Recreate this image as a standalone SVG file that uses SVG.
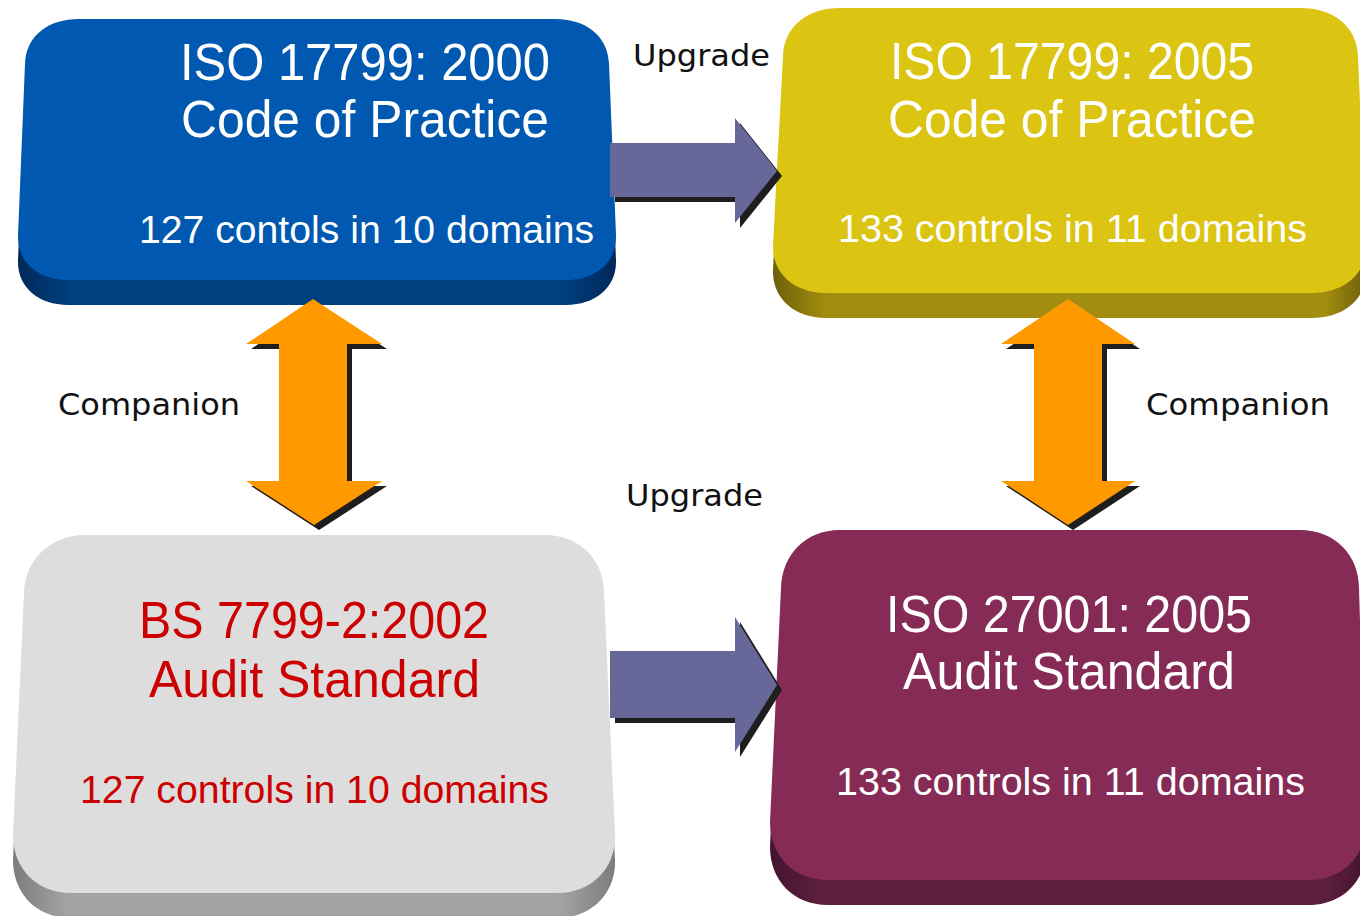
<svg xmlns="http://www.w3.org/2000/svg" xmlns:xlink="http://www.w3.org/1999/xlink" width="1360" height="916" viewBox="0 0 1360 916">
  <style>
    .title { font-family: "Liberation Sans", Arial, sans-serif; font-size: 52px; }
    .sub { font-family: "Liberation Sans", Arial, sans-serif; font-size: 38px; }
    .light { fill: #ffffff; }
    .red { fill: #cc0000; }
    .label { font-family: "DejaVu Sans", Verdana, sans-serif; font-size: 31px; fill: #111111; }
    .upgrade { fill: #67679a; }
    .companion { fill: #ff9900; }
    .shadow { fill: #1e1e1e; }
  </style>
  <defs>
    <!-- side slab shading: darker towards both ends -->
    <linearGradient id="slabBlue" x1="0" y1="0" x2="1" y2="0">
      <stop offset="0" stop-color="#00285a"/>
      <stop offset="0.09" stop-color="#003f80"/>
      <stop offset="0.91" stop-color="#003f80"/>
      <stop offset="1" stop-color="#00285a"/>
    </linearGradient>
    <linearGradient id="slabYellow" x1="0" y1="0" x2="1" y2="0">
      <stop offset="0" stop-color="#6f6008"/>
      <stop offset="0.09" stop-color="#a38d10"/>
      <stop offset="0.93" stop-color="#a38d10"/>
      <stop offset="1" stop-color="#6f6008"/>
    </linearGradient>
    <linearGradient id="slabGrey" x1="0" y1="0" x2="1" y2="0">
      <stop offset="0" stop-color="#7c7c7c"/>
      <stop offset="0.09" stop-color="#a3a3a3"/>
      <stop offset="0.91" stop-color="#a3a3a3"/>
      <stop offset="1" stop-color="#7c7c7c"/>
    </linearGradient>
    <linearGradient id="slabPurple" x1="0" y1="0" x2="1" y2="0">
      <stop offset="0" stop-color="#441530"/>
      <stop offset="0.09" stop-color="#5e1f3f"/>
      <stop offset="0.93" stop-color="#5e1f3f"/>
      <stop offset="1" stop-color="#441530"/>
    </linearGradient>

    <!-- connector shapes -->
    <path id="arrowTop" d="M610 143 H735 V118 L777 171 L735 223 V197 H610 Z"/>
    <path id="arrowBottom" d="M610 651 H735 V617 L777 685 L735 752 V718 H610 Z"/>
    <path id="pairLeft" d="M313 299 L382 344 H347 V481 H382 L314 525 L246 481 H279 V344 H246 Z"/>
    <path id="pairRight" d="M1068 299 L1135 344 H1102 V481 H1135 L1068 525 L1001 481 H1034 V344 H1001 Z"/>

    <!-- tile faces -->
    <path id="faceBlue" d="M79 19 H555 C585 19 608 35 609 64 L616 235 C617 262 596 280 566 280 H68 C38 280 17 262 18 235 L25 64 C26 35 49 19 79 19 Z"/>
    <path id="faceYellow" d="M840 8 H1300 C1333 8 1357 26 1358 56 L1366 245 C1367 273 1345 293 1312 293 H826 C794 293 772 273 773 245 L783 56 C784 26 808 8 840 8 Z"/>
    <path id="faceGrey" d="M85 535 H545 C580 535 604 560 604 593 L615 835 C616 868 592 893 557 893 H71 C36 893 13 868 13 835 L24 593 C25 560 50 535 85 535 Z"/>
    <path id="facePurple" d="M840 530 H1300 C1335 530 1359 555 1359 588 L1366 822 C1367 855 1343 880 1308 880 H828 C793 880 770 855 770 822 L781 588 C782 555 805 530 840 530 Z"/>
  </defs>

  <rect width="1360" height="916" fill="#ffffff"/>

  <g id="iso17799-2000">
    <use xlink:href="#faceBlue" transform="translate(0,25)" fill="url(#slabBlue)"/>
    <use xlink:href="#faceBlue" fill="#0058b0"/>
    <text class="title light" x="180" y="80" textLength="370" lengthAdjust="spacingAndGlyphs">ISO 17799: 2000</text>
    <text class="title light" x="181" y="137" textLength="368" lengthAdjust="spacingAndGlyphs">Code of Practice</text>
    <text class="sub light" x="139" y="243" textLength="455" lengthAdjust="spacingAndGlyphs">127 contols in 10 domains</text>
  </g>

  <g id="iso17799-2005">
    <use xlink:href="#faceYellow" transform="translate(0,25)" fill="url(#slabYellow)"/>
    <use xlink:href="#faceYellow" fill="#dcc413"/>
    <text class="title light" x="890" y="79" textLength="364" lengthAdjust="spacingAndGlyphs">ISO 17799: 2005</text>
    <text class="title light" x="888" y="137" textLength="368" lengthAdjust="spacingAndGlyphs">Code of Practice</text>
    <text class="sub light" x="838" y="242" textLength="469" lengthAdjust="spacingAndGlyphs">133 controls in 11 domains</text>
  </g>

  <g id="bs7799-2">
    <use xlink:href="#faceGrey" transform="translate(0,25)" fill="url(#slabGrey)"/>
    <use xlink:href="#faceGrey" fill="#dddddd"/>
    <text class="title red" x="139" y="638" textLength="350" lengthAdjust="spacingAndGlyphs">BS 7799-2:2002</text>
    <text class="title red" x="149" y="697" textLength="331" lengthAdjust="spacingAndGlyphs">Audit Standard</text>
    <text class="sub red" x="80" y="803" textLength="469" lengthAdjust="spacingAndGlyphs">127 controls in 10 domains</text>
  </g>

  <g id="iso27001-2005">
    <use xlink:href="#facePurple" transform="translate(0,25)" fill="url(#slabPurple)"/>
    <use xlink:href="#facePurple" fill="#852b56"/>
    <text class="title light" x="886" y="632" textLength="366" lengthAdjust="spacingAndGlyphs">ISO 27001: 2005</text>
    <text class="title light" x="903" y="689" textLength="332" lengthAdjust="spacingAndGlyphs">Audit Standard</text>
    <text class="sub light" x="836" y="795" textLength="469" lengthAdjust="spacingAndGlyphs">133 controls in 11 domains</text>
  </g>

  <g id="connectors">
    <!-- upgrade arrows -->
    <use xlink:href="#arrowTop" class="shadow" transform="translate(5,5)"/>
    <use xlink:href="#arrowTop" class="upgrade"/>
    <use xlink:href="#arrowBottom" class="shadow" transform="translate(5,5)"/>
    <use xlink:href="#arrowBottom" class="upgrade"/>
    <!-- companion arrows -->
    <use xlink:href="#pairLeft" class="shadow" transform="translate(5,5)"/>
    <use xlink:href="#pairLeft" class="companion"/>
    <use xlink:href="#pairRight" class="shadow" transform="translate(5,5)"/>
    <use xlink:href="#pairRight" class="companion"/>

    <text class="label" x="633" y="66" textLength="137" lengthAdjust="spacingAndGlyphs">Upgrade</text>
    <text class="label" x="626" y="506" textLength="137" lengthAdjust="spacingAndGlyphs">Upgrade</text>
    <text class="label" x="58" y="415" textLength="182" lengthAdjust="spacingAndGlyphs">Companion</text>
    <text class="label" x="1146" y="415" textLength="184" lengthAdjust="spacingAndGlyphs">Companion</text>
  </g>
</svg>
